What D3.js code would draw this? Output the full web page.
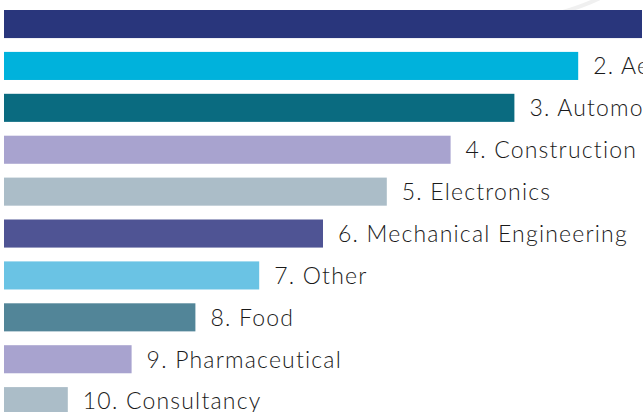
<!DOCTYPE html>
<html>
<head>
<meta charset="utf-8">
<script src="https://cdn.jsdelivr.net/npm/d3@7"></script>
<style>
  html, body { margin: 0; padding: 0; background: #ffffff; }
  #bar-chart { width: 643px; height: 412px; overflow: hidden; }
</style>
</head>
<body>
<div id="bar-chart"></div>
<script>
const categories = [
  "1. Chemicals", "2. Aerospace", "3. Automotive", "4. Construction", "5. Electronics",
  "6. Mechanical Engineering", "7. Other", "8. Food", "9. Pharmaceutical", "10. Consultancy"
];
const values = [10, 9, 8, 7, 6, 5, 4, 3, 2, 1];
const colors = [
  "#29367c", "#00b2dc", "#0a6b80", "#a8a3cf", "#abbdc8",
  "#4f5494", "#6ac3e4", "#528598", "#a8a3cf", "#abbdc8"
];

(function() {
  const containerId = "#bar-chart";

  const renderChart = () => {
    d3.select(containerId).selectAll("*").remove();

    const width = 643;
    const height = 412;

    const svg = d3.select(containerId)
      .append("svg")
      .attr("width", width)
      .attr("height", height);

    // faint decoration in the top right corner
    svg.append("path")
      .attr("d", "M 556 14 Q 585 6 604 -4")
      .attr("fill", "none")
      .attr("stroke", "#f0f0f0")
      .attr("stroke-width", 4);

    const data = categories.map((c, i) => ({ name: c, value: values[i], color: colors[i] }));

    const x = d3.scaleLinear().domain([0, 10]).range([4, 642]);
    const y = d3.scaleBand()
      .domain(categories)
      .range([10, 10 + 41.9 * (10 - 0.33)])
      .paddingInner(0.33)
      .paddingOuter(0);

    svg.selectAll("rect.bar")
      .data(data)
      .join("rect")
      .attr("class", "bar")
      .attr("x", x(0))
      .attr("y", d => y(d.name))
      .attr("width", d => x(d.value) - x(0))
      .attr("height", y.bandwidth())
      .attr("fill", d => d.color);

    svg.selectAll("text.label")
      .data(data)
      .join("text")
      .attr("class", "label")
      .attr("x", d => x(d.value) + 15)
      .attr("y", d => y(d.name) + y.bandwidth() / 2)
      .attr("dy", "0.36em")
      .style("font-family", "Lato, 'Open Sans', sans-serif")
      .style("font-weight", "300")
      .style("font-size", "23px")
      .style("letter-spacing", "1.2px")
      .style("fill", "#1a1a1a")
      .text(d => d.name);
  };

  renderChart();
})();
</script>
</body>
</html>
